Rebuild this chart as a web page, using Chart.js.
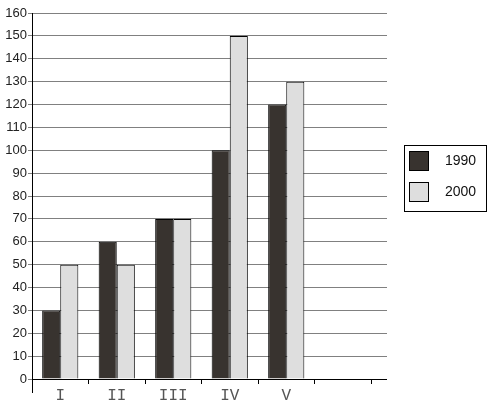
<!DOCTYPE html>
<html>
<head>
<meta charset="utf-8">
<script src="https://cdn.jsdelivr.net/npm/chart.js@4.4.0/dist/chart.umd.min.js"></script>
<style>
  html, body { margin: 0; padding: 0; background: #fff; }
  #wrap { position: relative; width: 488px; height: 401px; }
  #legend {
    position: absolute; left: 404px; top: 145px; width: 83px; height: 67px;
    border: 1px solid #000; box-sizing: border-box;
    font-family: "Liberation Sans", Arial, sans-serif; font-size: 14px; color: #111;
  }
  .item { position: absolute; left: 4px; height: 20px; }
  .sw { position: absolute; left: 0; top: 0; width: 20px; height: 20px; border: 1px solid #000; box-sizing: border-box; }
  .lb { position: absolute; left: 36px; top: 1px; }
</style>
</head>
<body>
<div id="wrap">
  <canvas id="c" width="488" height="401"></canvas>
  <div id="legend"></div>
</div>
<script>
const categories = ["I", "II", "III", "IV", "V", ""];
const seriesNames = ["1990", "2000"];
const values1990 = [30, 60, 70, 100, 120, null];
const values2000 = [50, 50, 70, 150, 130, null];
const colors = ["#38332f", "#dedede"];

// same pixel snapping as chart.js uses for 1px lines
const snap = p => Math.round(p - 0.5) + 0.5;

// extra lines: grid beyond last category, y axis below zero
const extras = {
  id: "extras",
  afterDraw(chart) {
    const { ctx, chartArea } = chart;
    const y = chart.scales.y;
    ctx.save();
    ctx.lineWidth = 1;
    ctx.strokeStyle = "#808080";
    y.ticks.forEach(t => {
      if (t.value === 0) return;
      const py = snap(y.getPixelForValue(t.value));
      ctx.beginPath();
      ctx.moveTo(chartArea.right - 1, py);
      ctx.lineTo(chartArea.right + 16, py);
      ctx.stroke();
    });
    ctx.strokeStyle = "#000";
    const zy = snap(y.getPixelForValue(0));
    ctx.beginPath();
    ctx.moveTo(chartArea.left, zy);
    ctx.lineTo(chartArea.right + 16, zy);
    ctx.stroke();
    const lx = snap(chartArea.left);
    ctx.beginPath();
    ctx.moveTo(lx, chartArea.top);
    ctx.lineTo(lx, chartArea.bottom + 14);
    ctx.stroke();
    ctx.restore();
  }
};

new Chart(document.getElementById("c"), {
  type: "bar",
  data: {
    labels: categories,
    datasets: [
      { label: seriesNames[0], data: values1990, backgroundColor: colors[0], borderColor: "#000", borderWidth: 1 },
      { label: seriesNames[1], data: values2000, backgroundColor: colors[1], borderColor: "#000", borderWidth: 1 }
    ]
  },
  options: {
    responsive: false,
    animation: false,
    layout: { padding: { top: 13, right: 117, left: 0, bottom: 0 } },
    plugins: { legend: { display: false }, tooltip: { enabled: false } },
    datasets: { bar: { categoryPercentage: 0.64, barPercentage: 1 } },
    scales: {
      x: {
        grid: { offset: true, drawOnChartArea: false, color: "#000", tickLength: 5 },
        border: { color: "#000" },
        ticks: { font: { family: "Liberation Mono", size: 16 }, color: "#555", padding: 2 },
        afterFit(s) { s.height = 22; }
      },
      y: {
        min: 0, max: 160,
        ticks: { stepSize: 10, font: { family: "Liberation Sans", size: 13 }, color: "#222", padding: 1 },
        grid: { color: "#808080", tickLength: 4 },
        border: { color: "#000" },
        afterFit(s) { s.width = 32; }
      }
    }
  },
  plugins: [extras]
});

const legend = document.getElementById("legend");
seriesNames.forEach((name, i) => {
  const d = document.createElement("div");
  d.className = "item";
  d.style.top = (5 + i * 31) + "px";
  d.innerHTML = '<div class="sw" style="background:' + colors[i] + '"></div><div class="lb">' + name + '</div>';
  legend.appendChild(d);
});
</script>
</body>
</html>
